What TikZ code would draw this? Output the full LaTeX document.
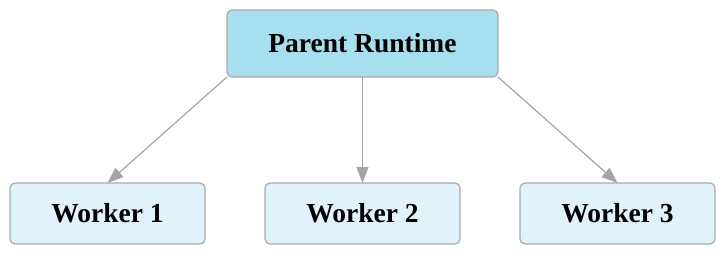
\documentclass[tikz,border=0pt]{standalone}
\usepackage{fontspec}
\setmainfont{Liberation Serif}
\usepackage{xcolor}
\usetikzlibrary{arrows.meta}
\definecolor{parentfill}{HTML}{A6DFEE}
\definecolor{workerfill}{HTML}{E0F3FA}
\definecolor{boxline}{HTML}{AAAAAA}
\definecolor{arrowgray}{HTML}{A5A5A5}

\tikzset{
  parentbox/.style={draw=boxline, line width=1.2pt, fill=parentfill, rounded corners=5pt,
    minimum width=271pt, minimum height=67pt, inner sep=0pt, outer sep=0pt,
    font=\fontsize{27.5}{32}\selectfont\bfseries},
  workerbox/.style={draw=boxline, line width=1.2pt, fill=workerfill, rounded corners=5pt,
    minimum width=195pt, minimum height=61pt, inner sep=0pt, outer sep=0pt,
    font=\fontsize{27.5}{32}\selectfont\bfseries},
  link/.style={draw=arrowgray, line width=1.2pt,
    -{Triangle[length=16pt, width=12pt]}}
}

\begin{document}
\begin{tikzpicture}[x=1pt, y=-1pt]
  \useasboundingbox (0,0) rectangle (725,254);
  % parent and its workers
  \node[parentbox] (parent) at (362.5,43.5) {Parent Runtime};
  \node[workerbox] (w1) at (107.5,213.5) {Worker 1};
  \node[workerbox] (w2) at (362.5,213.5) {Worker 2};
  \node[workerbox] (w3) at (617.5,213.5) {Worker 3};
  % spawn arrows
  \draw[link] (parent.south west) -- (w1.north);
  \draw[link] (parent.south) -- (w2.north);
  \draw[link] (parent.south east) -- (w3.north);
\end{tikzpicture}
\end{document}
